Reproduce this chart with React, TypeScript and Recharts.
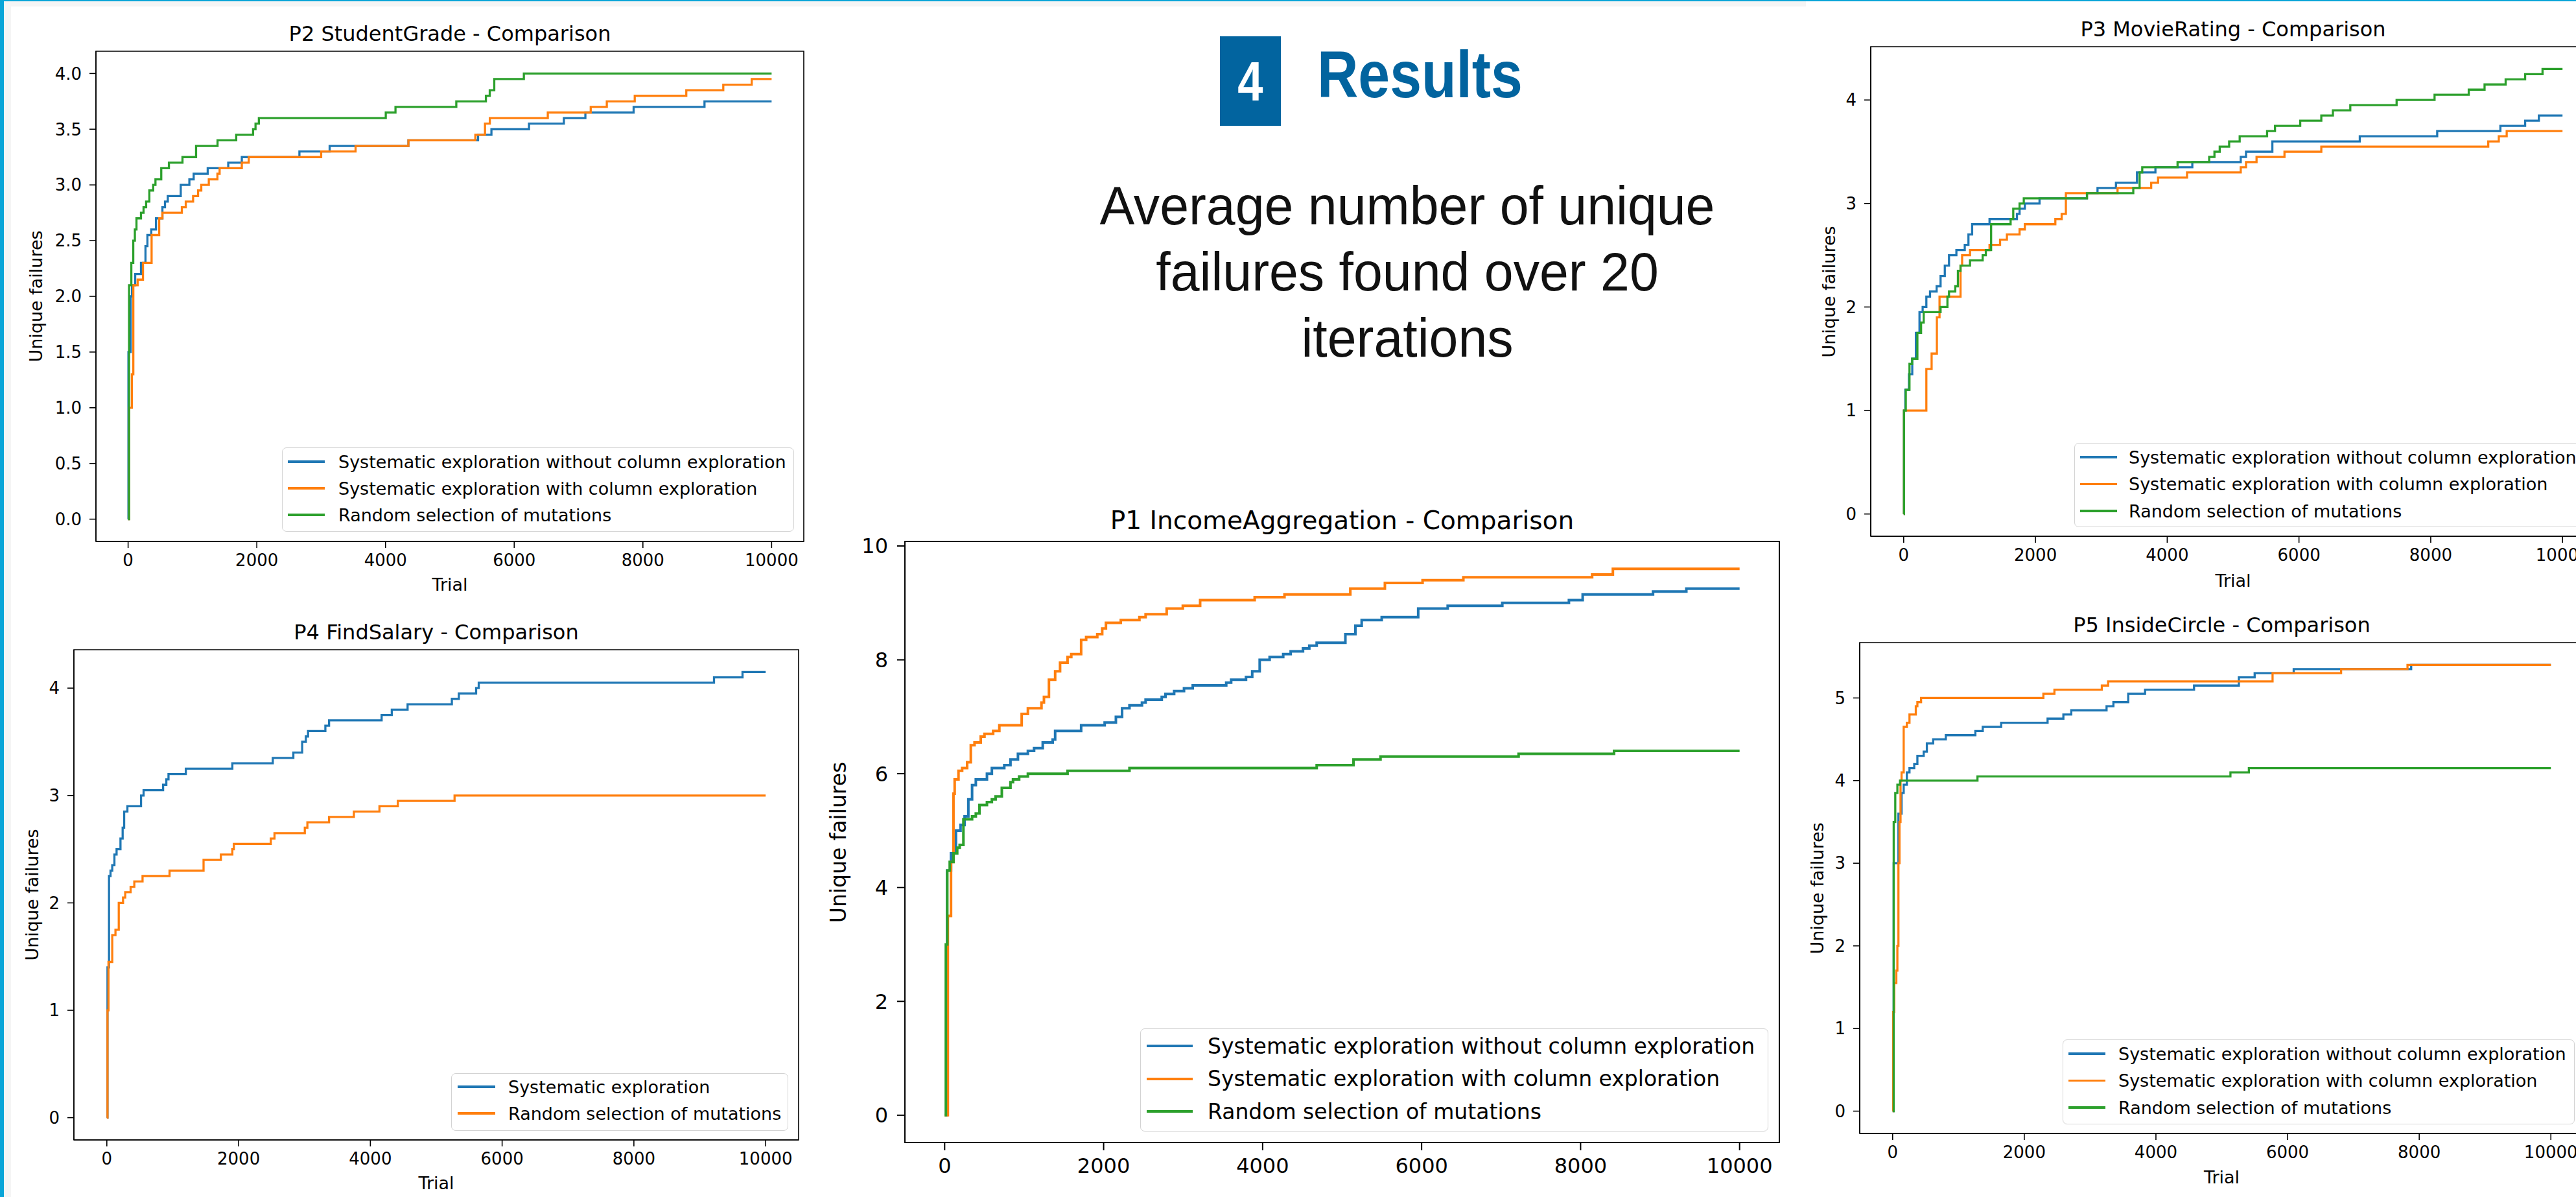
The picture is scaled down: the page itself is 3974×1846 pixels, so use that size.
import { LineChart, Line, XAxis, YAxis, ReferenceArea } from "recharts";

type Pt = [number, number];

const trialTicks = [0, 2000, 4000, 6000, 8000, 10000];

const threeLabels = [
  "Systematic exploration without column exploration",
  "Systematic exploration with column exploration",
  "Random selection of mutations",
];
const twoLabels = ["Systematic exploration", "Random selection of mutations"];

// P2 StudentGrade
const p2YTicks = [0, 0.5, 1, 1.5, 2, 2.5, 3, 3.5, 4];
const p2Without: Pt[] = [
  [0, 0], [5, 1.5], [40, 2.0], [60, 2.1], [110, 2.2], [200, 2.3], [270, 2.45], [300, 2.55],
  [360, 2.6], [433, 2.7], [533, 2.8], [573, 2.85], [617, 2.9], [818, 3.0], [952, 3.05],
  [1019, 3.1], [1237, 3.15], [1556, 3.2], [1767, 3.25], [2662, 3.3], [3132, 3.35],
  [4356, 3.4], [5438, 3.45], [5646, 3.5], [6230, 3.55], [6772, 3.6], [7106, 3.65],
  [7856, 3.7], [8957, 3.75], [10000, 3.75],
];
const p2With: Pt[] = [
  [0, 0], [15, 1.0], [58, 1.3], [81, 2.1], [148, 2.15], [231, 2.3], [365, 2.55], [483, 2.7],
  [533, 2.75], [835, 2.8], [896, 2.85], [1010, 2.9], [1087, 2.95], [1137, 3.0], [1254, 3.05],
  [1388, 3.1], [1422, 3.15], [1767, 3.2], [1875, 3.25], [3000, 3.3], [3535, 3.35],
  [4356, 3.4], [5396, 3.45], [5546, 3.55], [5621, 3.6], [6522, 3.65], [7189, 3.7],
  [7439, 3.75], [7873, 3.8], [8674, 3.85], [9249, 3.9], [9691, 3.95], [10000, 3.95],
];
const p2Random: Pt[] = [
  [0, 0], [15, 2.1], [50, 2.3], [80, 2.5], [105, 2.6], [130, 2.7], [200, 2.75], [240, 2.8],
  [280, 2.85], [330, 2.95], [390, 3.0], [425, 3.05], [515, 3.15], [634, 3.2], [845, 3.25],
  [1056, 3.35], [1390, 3.4], [1680, 3.45], [1942, 3.5], [1980, 3.55], [2032, 3.6],
  [4004, 3.65], [4155, 3.7], [5100, 3.75], [5560, 3.8], [5620, 3.85], [5690, 3.95],
  [6150, 4.0], [10000, 4.0],
];

// P4 FindSalary
const p4YTicks = [0, 1, 2, 3, 4];
const p4Systematic: Pt[] = [
  [0, 0], [10, 1.4], [33, 2.25], [56, 2.3], [82, 2.35], [115, 2.45], [148, 2.5], [207, 2.6],
  [240, 2.7], [263, 2.85], [312, 2.9], [519, 3.0], [558, 3.05], [854, 3.1], [903, 3.15],
  [936, 3.2], [1199, 3.25], [1905, 3.3], [2519, 3.35], [2831, 3.4], [2965, 3.5], [3021, 3.55],
  [3054, 3.6], [3317, 3.65], [3373, 3.7], [4171, 3.75], [4325, 3.8], [4565, 3.85],
  [5237, 3.9], [5343, 3.95], [5605, 4.0], [5645, 4.05], [9216, 4.1], [9649, 4.15], [10000, 4.15],
];
const p4Random: Pt[] = [
  [0, 0], [10, 1.0], [25, 1.45], [82, 1.7], [131, 1.75], [181, 2.0], [246, 2.05], [279, 2.1],
  [361, 2.15], [417, 2.2], [542, 2.25], [952, 2.3], [1468, 2.4], [1731, 2.45], [1905, 2.5],
  [1928, 2.55], [2489, 2.6], [2545, 2.65], [3005, 2.7], [3044, 2.75], [3373, 2.8],
  [3750, 2.85], [4138, 2.9], [4417, 2.95], [5278, 3.0], [10000, 3.0],
];

// P1 IncomeAggregation
const p1YTicks = [0, 2, 4, 6, 8, 10];
const p1Without: Pt[] = [
  [0, 0], [30, 4.3], [80, 4.6], [142, 5.0], [200, 5.1], [251, 5.25], [298, 5.55], [345, 5.8],
  [392, 5.9], [532, 6.0], [594, 6.1], [750, 6.15], [828, 6.25], [922, 6.35], [1047, 6.4],
  [1125, 6.45], [1234, 6.55], [1359, 6.6], [1390, 6.75], [1717, 6.85], [2013, 6.9],
  [2154, 7.0], [2232, 7.15], [2325, 7.2], [2482, 7.25], [2528, 7.3], [2731, 7.35],
  [2778, 7.4], [2887, 7.45], [3011, 7.5], [3121, 7.55], [3542, 7.6], [3604, 7.65],
  [3791, 7.7], [3869, 7.8], [3963, 8.0], [4088, 8.05], [4259, 8.1], [4353, 8.15],
  [4508, 8.2], [4587, 8.25], [4680, 8.3], [5041, 8.45], [5167, 8.6], [5246, 8.7],
  [5498, 8.75], [5957, 8.9], [6328, 8.95], [7015, 9.0], [7853, 9.05], [8026, 9.15],
  [8911, 9.2], [9330, 9.25], [10000, 9.25],
];
const p1With: Pt[] = [
  [0, 0], [40, 3.5], [80, 4.45], [111, 5.65], [126, 5.9], [174, 6.05], [220, 6.1], [283, 6.2],
  [329, 6.5], [376, 6.55], [454, 6.65], [501, 6.7], [610, 6.75], [688, 6.85], [969, 7.05],
  [1047, 7.15], [1218, 7.25], [1249, 7.35], [1312, 7.65], [1390, 7.8], [1452, 7.95],
  [1546, 8.05], [1593, 8.1], [1717, 8.35], [1780, 8.4], [1920, 8.45], [1982, 8.55],
  [2029, 8.65], [2216, 8.7], [2450, 8.75], [2528, 8.8], [2793, 8.9], [2996, 8.95],
  [3214, 9.05], [3900, 9.1], [4275, 9.15], [5103, 9.25], [5538, 9.35], [6012, 9.4],
  [6525, 9.45], [8145, 9.5], [8406, 9.6], [10000, 9.6],
];
const p1Random: Pt[] = [
  [0, 0], [15, 3.0], [33, 4.3], [64, 4.45], [111, 4.6], [158, 4.7], [189, 4.75], [236, 5.2],
  [345, 5.25], [392, 5.3], [438, 5.45], [532, 5.5], [594, 5.55], [641, 5.6], [719, 5.75],
  [828, 5.85], [860, 5.9], [937, 5.95], [1047, 6.0], [1546, 6.05], [2325, 6.1],
  [4680, 6.15], [5143, 6.25], [5483, 6.3], [7220, 6.35], [8421, 6.4], [10000, 6.4],
];

// P3 MovieRating
const p3YTicks = [0, 1, 2, 3, 4];
const p3Without: Pt[] = [
  [0, 0], [5, 1.0], [25, 1.2], [80, 1.35], [130, 1.5], [185, 1.75], [240, 1.95], [288, 2.0],
  [344, 2.1], [400, 2.15], [500, 2.2], [560, 2.3], [624, 2.4], [688, 2.5], [800, 2.55],
  [927, 2.6], [983, 2.7], [1039, 2.8], [1303, 2.85], [1719, 2.9], [1759, 2.95], [1839, 3.0],
  [2062, 3.05], [2782, 3.1], [2942, 3.15], [3222, 3.2], [3541, 3.3], [3821, 3.35],
  [4381, 3.4], [5116, 3.45], [5196, 3.5], [5596, 3.6], [6923, 3.65], [8098, 3.7],
  [9057, 3.75], [9433, 3.8], [9641, 3.85], [10000, 3.85],
];
const p3With: Pt[] = [
  [0, 0], [5, 1.0], [344, 1.4], [424, 1.55], [504, 1.9], [544, 2.1], [863, 2.4], [887, 2.5],
  [1007, 2.55], [1303, 2.6], [1463, 2.65], [1567, 2.7], [1759, 2.75], [1839, 2.8],
  [2302, 2.85], [2398, 2.9], [2462, 3.1], [3246, 3.15], [3757, 3.2], [3861, 3.25],
  [4301, 3.3], [5116, 3.35], [5196, 3.4], [5356, 3.45], [5780, 3.5], [6339, 3.55],
  [8873, 3.6], [9033, 3.65], [9153, 3.7], [10000, 3.7],
];
const p3Random: Pt[] = [
  [0, 0], [5, 1.0], [32, 1.2], [88, 1.45], [128, 1.5], [208, 1.75], [264, 1.85], [304, 1.95],
  [560, 2.0], [664, 2.1], [688, 2.15], [783, 2.2], [823, 2.35], [863, 2.4], [1007, 2.45],
  [1199, 2.5], [1247, 2.55], [1327, 2.8], [1623, 2.85], [1663, 2.95], [1759, 3.0],
  [1823, 3.05], [2782, 3.1], [3485, 3.15], [3581, 3.3], [3621, 3.35], [4157, 3.4],
  [4637, 3.45], [4717, 3.5], [4797, 3.55], [4940, 3.6], [5100, 3.65], [5516, 3.7],
  [5636, 3.75], [6019, 3.8], [6339, 3.85], [6515, 3.9], [6779, 3.95], [7482, 4.0],
  [8058, 4.05], [8577, 4.1], [8817, 4.15], [9137, 4.2], [9433, 4.25], [9697, 4.3], [10000, 4.3],
];

// P5 InsideCircle
const p5YTicks = [0, 1, 2, 3, 4, 5];
const p5Without: Pt[] = [
  [0, 0], [16, 3.0], [88, 3.6], [136, 3.85], [168, 3.95], [216, 4.1], [256, 4.15], [328, 4.2],
  [376, 4.3], [472, 4.35], [520, 4.45], [616, 4.5], [808, 4.55], [1257, 4.6], [1369, 4.65],
  [1649, 4.7], [2354, 4.75], [2594, 4.8], [2714, 4.85], [3250, 4.9], [3354, 4.95],
  [3579, 5.05], [3835, 5.1], [4579, 5.15], [5260, 5.25], [5500, 5.3], [6093, 5.35],
  [7878, 5.4], [10000, 5.4],
];
const p5With: Pt[] = [
  [0, 0], [8, 1.2], [24, 1.55], [56, 1.7], [72, 2.0], [88, 3.0], [104, 3.5], [120, 4.0],
  [136, 4.1], [168, 4.65], [216, 4.7], [256, 4.8], [352, 4.9], [376, 4.95], [432, 5.0],
  [2290, 5.05], [2458, 5.1], [3178, 5.15], [3274, 5.2], [5772, 5.3], [6813, 5.35],
  [7822, 5.4], [10000, 5.4],
];
const p5Random: Pt[] = [
  [0, 0], [16, 3.5], [40, 3.85], [72, 3.95], [112, 4.0], [1289, 4.05], [5132, 4.1],
  [5412, 4.15], [10000, 4.15],
];

const BLUE = "#1f77b4";
const ORANGE = "#ff7f0e";
const GREEN = "#2ca02c";
const HEAD_FONT = '"Liberation Sans Narrow", "Liberation Sans", sans-serif';

type Series = { name: string; color: string; points: Pt[] };

type PanelProps = {
  title: string;
  box: { l: number; t: number; r: number; b: number };
  yDomain: [number, number];
  yTicks: number[];
  yDigits: number;
  series: Series[];
  fonts: { tick: number; label: number; title: number };
  stroke: number;
  axisW: number;
  tick: number;
  titleY: number;
  yLabelX: number;
  trialY?: number;
  legend: { l: number; t: number; w: number; h: number; first: number; gap: number; lineX: number; lineLen: number; textX: number };
};

function Panel(p: PanelProps) {
  const padL = 160;
  const padR = 12;
  const padT = 12;
  const padB = 90;
  const w = p.box.r - p.box.l;
  const h = p.box.b - p.box.t;
  const cx = (p.box.l + p.box.r) / 2;
  const cy = (p.box.t + p.box.b) / 2;
  const axisStyle = { stroke: "#000", strokeWidth: p.axisW };
  const lg = p.legend;
  return (
    <>
      <div
        style={{
          position: "absolute", left: cx - 1000, width: 2000, textAlign: "center",
          top: p.titleY - 0.58 * p.fonts.title, fontSize: p.fonts.title, lineHeight: 1.2, whiteSpace: "nowrap",
        }}
      >
        {p.title}
      </div>
      <div
        style={{
          position: "absolute", left: p.yLabelX, top: cy, fontSize: p.fonts.label, lineHeight: 1.2,
          transform: "translate(-50%, -50%) rotate(-90deg)", whiteSpace: "nowrap",
        }}
      >
        Unique failures
      </div>
      {p.trialY !== undefined && (
        <div
          style={{
            position: "absolute", left: cx - 200, width: 400, textAlign: "center",
            top: p.trialY - 0.58 * p.fonts.label, fontSize: p.fonts.label, lineHeight: 1.2,
          }}
        >
          Trial
        </div>
      )}
      <div style={{ position: "absolute", left: p.box.l - padL, top: p.box.t - padT }}>
        <LineChart
          width={w + padL + padR}
          height={h + padT + padB}
          margin={{ top: padT, right: padR, bottom: 0, left: 0 }}
        >
          <XAxis
            type="number"
            dataKey="trial"
            domain={[-500, 10500]}
            ticks={trialTicks}
            interval={0}
            allowDataOverflow
            height={padB}
            tickSize={p.tick}
            tickMargin={p.tick}
            axisLine={axisStyle}
            tickLine={axisStyle}
            tick={{ fill: "#000", fontSize: p.fonts.tick }}
          />
          <YAxis
            type="number"
            domain={p.yDomain}
            ticks={p.yTicks}
            interval={0}
            allowDataOverflow
            width={padL}
            tickSize={p.tick}
            tickMargin={p.tick + 2}
            axisLine={axisStyle}
            tickLine={axisStyle}
            tick={{ fill: "#000", fontSize: p.fonts.tick }}
            tickFormatter={(v: number) => v.toFixed(p.yDigits)}
          />
          <ReferenceArea
            x1={-500}
            x2={10500}
            y1={p.yDomain[0]}
            y2={p.yDomain[1]}
            fill="none"
            stroke="#000"
            strokeWidth={p.axisW}
            ifOverflow="visible"
          />
          {p.series.map((s) => (
            <Line
              key={s.name}
              data={s.points.map(([trial, value]) => ({ trial, value }))}
              dataKey="value"
              type="stepAfter"
              stroke={s.color}
              strokeWidth={p.stroke}
              dot={false}
              activeDot={false}
              isAnimationActive={false}
            />
          ))}
        </LineChart>
      </div>
      <div
        style={{
          position: "absolute", left: lg.l, top: lg.t, width: lg.w, height: lg.h, boxSizing: "border-box",
          border: "1.5px solid #d3d3d3", borderRadius: 7, background: "rgba(255,255,255,0.85)",
          fontSize: p.fonts.label,
        }}
      >
        {p.series.map((s, i) => (
          <div
            key={s.name}
            style={{
              position: "absolute", left: 0, top: lg.first + i * lg.gap - lg.gap / 2, height: lg.gap,
              display: "flex", alignItems: "center", whiteSpace: "nowrap",
            }}
          >
            <div style={{ marginLeft: lg.lineX, width: lg.lineLen, height: p.stroke, background: s.color }} />
            <span style={{ marginLeft: lg.textX - lg.lineX - lg.lineLen }}>{s.name}</span>
          </div>
        ))}
      </div>
    </>
  );
}

const small = { tick: 26, label: 27, title: 32 };
const big = { tick: 32, label: 33, title: 39 };

export default function App() {
  return (
    <div
      style={{
        position: "absolute", left: 0, top: 0, width: 3974, height: 1846, overflow: "hidden",
        background: "#fff", fontFamily: '"DejaVu Sans", sans-serif', color: "#000",
      }}
    >
      <div style={{ position: "absolute", left: 6, top: 1, width: 2780, height: 9, background: "#f5f5f5" }} />
      <div style={{ position: "absolute", left: 6, top: 1, width: 11, height: 1845, background: "#f5f5f5" }} />
      <div style={{ position: "absolute", left: 0, top: 0, width: 3974, height: 2, background: "#0aa5d8" }} />
      <div style={{ position: "absolute", left: 0, top: 0, width: 6, height: 1846, background: "#0aa5d8" }} />

      <div
        style={{
          position: "absolute", left: 1882, top: 56, width: 94, height: 138, background: "#02649f",
          color: "#fff", textAlign: "center", lineHeight: "138px", fontSize: 86, fontWeight: 700,
          fontFamily: HEAD_FONT,
        }}
      >
        <span style={{ display: "inline-block", transform: "scaleX(0.82)" }}>4</span>
      </div>
      <div
        style={{
          position: "absolute", left: 2032, top: 64, lineHeight: 1, fontSize: 102, fontWeight: 700,
          color: "#02649f", fontFamily: HEAD_FONT, whiteSpace: "nowrap",
          transform: "scaleX(0.86)", transformOrigin: "left top",
        }}
      >
        Results
      </div>
      <div
        style={{
          position: "absolute", left: 2171 - 700, width: 1400, top: 266, textAlign: "center",
          fontSize: 84, lineHeight: "102px", color: "#111", fontFamily: HEAD_FONT,
          transform: "scaleX(0.96)", transformOrigin: "center top",
        }}
      >
        Average number of unique
        <br />
        failures found over 20
        <br />
        iterations
      </div>

      <Panel
        title="P2 StudentGrade - Comparison"
        box={{ l: 148, t: 79, r: 1240, b: 835 }}
        yDomain={[-0.2, 4.2]}
        yTicks={p2YTicks}
        yDigits={1}
        series={[
          { name: threeLabels[0], color: BLUE, points: p2Without },
          { name: threeLabels[1], color: ORANGE, points: p2With },
          { name: threeLabels[2], color: GREEN, points: p2Random },
        ]}
        fonts={small}
        stroke={3.3}
        axisW={1.6}
        tick={10}
        titleY={52}
        yLabelX={56}
        trialY={902}
        legend={{ l: 435, t: 690, w: 790, h: 130, first: 21, gap: 41, lineX: 8, lineLen: 57, textX: 86 }}
      />
      <Panel
        title="P4 FindSalary - Comparison"
        box={{ l: 114, t: 1002, r: 1232, b: 1758 }}
        yDomain={[-0.2075, 4.3575]}
        yTicks={p4YTicks}
        yDigits={0}
        series={[
          { name: twoLabels[0], color: BLUE, points: p4Systematic },
          { name: twoLabels[1], color: ORANGE, points: p4Random },
        ]}
        fonts={small}
        stroke={3.3}
        axisW={1.6}
        tick={10}
        titleY={975}
        yLabelX={50}
        trialY={1825}
        legend={{ l: 696, t: 1655, w: 520, h: 89, first: 20, gap: 41, lineX: 9, lineLen: 58, textX: 87 }}
      />
      <Panel
        title="P1 IncomeAggregation - Comparison"
        box={{ l: 1396, t: 835, r: 2745, b: 1762 }}
        yDomain={[-0.48, 10.08]}
        yTicks={p1YTicks}
        yDigits={0}
        series={[
          { name: threeLabels[0], color: BLUE, points: p1Without },
          { name: threeLabels[1], color: ORANGE, points: p1With },
          { name: threeLabels[2], color: GREEN, points: p1Random },
        ]}
        fonts={big}
        stroke={4}
        axisW={2}
        tick={12}
        titleY={803}
        yLabelX={1294}
        legend={{ l: 1759, t: 1586, w: 969, h: 159, first: 26, gap: 50.5, lineX: 9, lineLen: 71, textX: 103 }}
      />
      <Panel
        title="P3 MovieRating - Comparison"
        box={{ l: 2886, t: 72, r: 4004, b: 827 }}
        yDomain={[-0.215, 4.515]}
        yTicks={p3YTicks}
        yDigits={0}
        series={[
          { name: threeLabels[0], color: BLUE, points: p3Without },
          { name: threeLabels[1], color: ORANGE, points: p3With },
          { name: threeLabels[2], color: GREEN, points: p3Random },
        ]}
        fonts={small}
        stroke={3.3}
        axisW={1.6}
        tick={10}
        titleY={45}
        yLabelX={2822}
        trialY={896}
        legend={{ l: 3200, t: 683, w: 790, h: 130, first: 21, gap: 41.5, lineX: 8, lineLen: 57, textX: 83 }}
      />
      <Panel
        title="P5 InsideCircle - Comparison"
        box={{ l: 2869, t: 991, r: 3986, b: 1748 }}
        yDomain={[-0.27, 5.67]}
        yTicks={p5YTicks}
        yDigits={0}
        series={[
          { name: threeLabels[0], color: BLUE, points: p5Without },
          { name: threeLabels[1], color: ORANGE, points: p5With },
          { name: threeLabels[2], color: GREEN, points: p5Random },
        ]}
        fonts={small}
        stroke={3.3}
        axisW={1.6}
        tick={10}
        titleY={964}
        yLabelX={2804}
        trialY={1816}
        legend={{ l: 3182, t: 1603, w: 790, h: 131, first: 21, gap: 41.5, lineX: 8, lineLen: 57, textX: 85 }}
      />
</div>
  );
}
